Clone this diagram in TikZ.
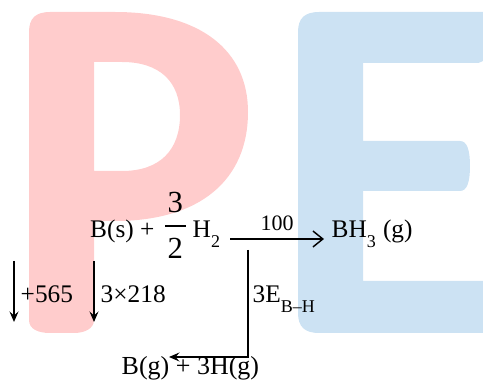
\documentclass[tikz,border=0pt]{standalone}
\usepackage{fontspec}
\setmainfont{Liberation Serif}
\usetikzlibrary{arrows.meta}
\definecolor{rosado}{RGB}{255,204,204}
\definecolor{celeste}{RGB}{204,226,243}
\newcommand{\sbs}[1]{\raisebox{-7pt}{\fontsize{13.5}{13.5}\selectfont #1}}
\tikzset{
  texto/.style={inner sep=0pt,anchor=base west,font=\fontsize{19}{19}\selectfont},
  fraccion/.style={texto,font=\fontsize{23}{23}\selectfont},
  flecha/.style={line width=1.1pt,-{Stealth[length=2.8mm,width=2.4mm,inset=1.1mm]}}
}

\begin{document}
\begin{tikzpicture}[x=0.75pt,y=-0.75pt,line width=1.1pt]
  \useasboundingbox (0,0) rectangle (483,381);
  % letra P
  \fill[rosado,even odd rule] (29,32) .. controls (29,18) and (36,12) .. (50,12) -- (115,12)
    .. controls (200,12) and (248,50) .. (248,112)
    .. controls (248,180) and (200,221) .. (115,221) -- (94,221) -- (94,320)
    .. controls (94,329) and (84,333) .. (74,333) -- (50,333)
    .. controls (38,333) and (29,329) .. (29,320) -- cycle
    (94,62) -- (94,171) -- (122,171) .. controls (160,171) and (180,150) .. (180,115)
    .. controls (180,82) and (160,62) .. (122,62) -- cycle;
  % letra E
  \fill[celeste] (298,32) .. controls (298,18) and (305,12) .. (319,12) -- (483,12) -- (483,61)
    .. controls (480,63) and (478,63) .. (475,63) -- (363,63) -- (363,141) -- (460,141)
    .. controls (467,141) and (470,150) .. (470,166) .. controls (470,182) and (467,191) .. (460,191)
    -- (363,191) -- (363,281) -- (483,281) -- (483,333) -- (319,333)
    .. controls (305,333) and (298,327) .. (298,313) -- cycle;
  % reaccion
  \node[texto] (bs) at (89.5,238) {B(s) +};
  \node[fraccion] (tres) at (167,213) {3};
  \node[fraccion] (dos) at (167,259) {2};
  \draw ([xshift=-1.5pt]tres.west |- 0,226) -- ([xshift=1.5pt]dos.east |- 0,226);
  \node[texto] (hdos) at (192,238) {H\sbs{2}};
  \node[texto] (bh) at (331,238) {BH\sbs{3}\hspace{0.28em}(g)};
  \draw[-{Straight Barb[length=2.6mm,width=4.2mm]}] ([xshift=7pt,yshift=-0.75pt]hdos.base east) -- ([xshift=-5.25pt,yshift=-0.75pt]bh.base west);
  \node[texto,font=\fontsize{16.5}{16.5}\selectfont] (cien) at (260,231) {100};
  % flechas verticales
  \coordinate (aa) at (14,261); \coordinate (ab) at (14,322);
  \coordinate (ba) at (94,261); \coordinate (bb) at (94,322);
  \draw[flecha] (aa) -- (ab);
  \draw[flecha] (ba) -- (bb);
  \node[texto] (atom) at (20,303) {+565};
  \node[texto] (hh) at (100,303) {3×218};
  \node[texto] (enl) at (252,303) {3E\sbs{B–H}};
  % abajo
  \node[texto,font=\fontsize{19.5}{19.5}\selectfont] (prod) at (121,375) {B(g) + 3H(g)};
  \coordinate (ca) at (248,250); \coordinate (cb) at (248,357); \coordinate (cc) at (169,357);
  \draw[flecha] (ca) -- (cb) -- (cc);
\end{tikzpicture}
\end{document}
